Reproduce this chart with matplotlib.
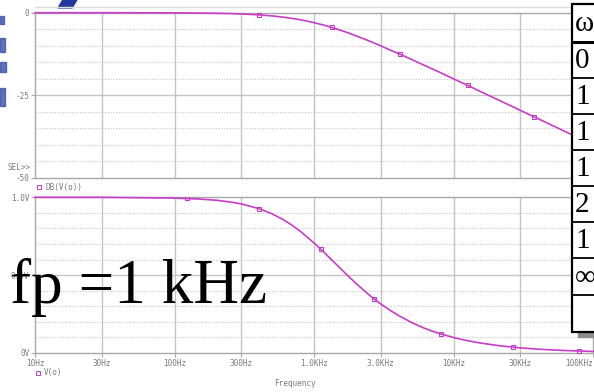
import numpy as np
import matplotlib
matplotlib.use('Agg')
from matplotlib import pyplot as plt
from matplotlib.patches import Rectangle, Polygon, Arc

# response of the RC low pass
freq = [10, 30, 100, 150, 200, 250, 300, 400, 500, 600, 700, 800, 1000, 1200, 1500,
        1700, 2000, 2500, 3000, 3500, 4000, 5000, 6000, 7000, 8000, 10000, 12000,
        15000, 20000, 25000, 30000, 40000, 50000, 70000, 100000]
gain_db = [0.0, 0.0, -0.04, -0.1, -0.17, -0.26, -0.38, -0.64, -0.97, -1.34, -1.74, -2.15,
           -3.01, -3.87, -5.12, -5.88, -6.99, -8.6, -10.0, -11.3, -12.3, -14.15, -15.7,
           -16.99, -18.1, -20.04, -21.6, -23.54, -26.03, -27.96, -29.55, -32.04, -33.98,
           -36.9, -40.0]
gain_v = [1.0, 1.0, 0.995, 0.989, 0.981, 0.97, 0.958, 0.928, 0.894, 0.857, 0.819, 0.781,
          0.707, 0.64, 0.555, 0.507, 0.447, 0.371, 0.316, 0.275, 0.243, 0.196, 0.164,
          0.141, 0.124, 0.0995, 0.083, 0.0665, 0.05, 0.04, 0.0333, 0.025, 0.02, 0.0143, 0.01]

# trace markers
mk_f_db = [403, 1346, 4160, 12600, 37700]
mk_db = [-0.67, -4.3, -12.6, -22.0, -31.5]
mk_f_v = [122, 403, 1122, 2700, 8200, 26500, 80000]
mk_v = [0.993, 0.927, 0.665, 0.347, 0.121, 0.038, 0.0125]

xtick_f = [10, 30, 100, 300, 1000, 3000, 10000, 30000, 100000]
xtick_lab = ['10Hz', '30Hz', '100Hz', '300Hz', '1.0KHz', '3.0KHz', '10KHz', '30KHz', '100KHz']

table_rows = ['\u03c9', '0', '1', '1', '1', '2', '1', '\u221e', '']

W, H = 594, 392
fig = plt.figure(figsize=(W / 100, H / 100), dpi=100)
fig.patch.set_facecolor('white')

MAG = '#c83cc8'
GRID = '#c4c4c4'
TXT = '#7a7a7a'
mono = 'DejaVu Sans Mono'


def fx(px):
    return px / W


def fy(py):
    return 1 - py / H


def setup(ax, yt, solid):
    ax.set_xscale('log')
    ax.set_xlim(10, 100000)
    ax.minorticks_off()
    ax.set_xticks(xtick_f)
    for f in xtick_f[1:-1]:
        ax.axvline(f, color=GRID, lw=1.0, zorder=0)
    for y in yt:
        if abs(y - solid) < 1e-9:
            ax.axhline(y, color=GRID, lw=1.0, zorder=0)
        else:
            ax.axhline(y, color=GRID, lw=0.8, ls=(0, (1, 1.5)), zorder=0)
    for s in ax.spines.values():
        s.set_color('#a8a8a8')
        s.set_linewidth(1.0)
    ax.tick_params(length=3, width=0.8, color='#a8a8a8', labelsize=5.5, labelcolor=TXT, pad=1)


# top: dB plot
ax1 = fig.add_axes([fx(35), fy(177.7), fx(593) - fx(35), fy(12.7) - fy(177.7)])
ax1.plot(freq, gain_db, color=MAG, lw=1.2, zorder=5, clip_on=False)
ax1.plot(mk_f_db, mk_db, ls='none', marker='s', ms=3, mfc='none', mec=MAG, mew=0.8, zorder=6)
ax1.set_ylim(-50, 0)
setup(ax1, np.arange(-45, 0, 5), -25)
ax1.set_yticks([0, -25, -50])
ax1.set_yticklabels(['0', '-25', '-50'], family=mono)
ax1.set_xticklabels([])
ax1.tick_params(axis='x', length=0)

# bottom: linear plot
ax2 = fig.add_axes([fx(35), fy(353), fx(593) - fx(35), fy(197.3) - fy(353)])
ax2.plot(freq, gain_v, color=MAG, lw=1.2, zorder=5, clip_on=False)
ax2.plot(mk_f_v, mk_v, ls='none', marker='s', ms=3, mfc='none', mec=MAG, mew=0.8, zorder=6)
ax2.set_ylim(0, 1.0)
setup(ax2, np.arange(0.1, 1.0, 0.1), 0.5)
ax2.set_yticks([0, 0.5, 1.0])
ax2.set_yticklabels(['0V', '0.5V', '1.0V'], family=mono)
ax2.set_xticklabels(xtick_lab, family=mono)
ax2.get_xticklabels()[-1].set_horizontalalignment('right')

# overlay in pixel coordinates for the annotations
ov = fig.add_axes([0, 0, 1, 1], facecolor='none')
ov.set_xlim(0, W)
ov.set_ylim(H, 0)
ov.axis('off')

ov.plot([35, 594], [7, 7], color='#dcdcdc', lw=1)
ov.text(31, 167, 'SEL>>', family=mono, fontsize=5.5, color=TXT, ha='right', va='center')
ov.add_patch(Rectangle((37, 185), 3.5, 3.5, fill=False, ec=MAG, lw=0.7))
ov.text(45, 187, 'DB(V(o))', family=mono, fontsize=5.5, color=TXT, va='center')
ov.add_patch(Rectangle((36, 371), 3.5, 3.5, fill=False, ec=MAG, lw=0.7))
ov.text(44, 373, 'V(o)', family=mono, fontsize=5.5, color=TXT, va='center')
ov.text(295, 383, 'Frequency', family=mono, fontsize=5.5, color=TXT, ha='center', va='center')

# slide text on top
ov.text(10, 303, 'fp =1 kHz', family='Liberation Serif', fontsize=45.5, color='black',
        va='baseline', ha='left')

# blue pieces of the slide logo
ov.add_patch(Arc((18, -6), 44, 30, theta1=180, theta2=330, color='#23389a', lw=3))
ov.add_patch(Polygon([[58, 8], [64, -2], [78, -2], [72, 8]], closed=True, color='#23389a'))
ov.add_patch(Rectangle((0, 16), 4, 8, color='#3a4fa8', alpha=0.8))
ov.add_patch(Rectangle((0, 38), 5, 14, color='#3a4fa8', alpha=0.8))
ov.add_patch(Rectangle((0, 62), 6, 10, color='#3a4fa8', alpha=0.8))
ov.add_patch(Rectangle((0, 88), 5, 18, color='#3a4fa8', alpha=0.8))

# table on the right
ov.add_patch(Rectangle((578, 331), 20, 6, color='#8c8c8c', zorder=3))
ov.add_patch(Rectangle((572, 4), 30, 328, facecolor='white', edgecolor='black', lw=1.6, zorder=4))
row_y = [4, 42, 78, 114, 150, 186, 222, 258, 295, 332]
for k in range(1, len(row_y) - 1):
    ov.plot([572, 598], [row_y[k], row_y[k]], color='black', lw=2.2 if k == 1 else 1.3, zorder=5)
for k, lab in enumerate(table_rows):
    yc = (row_y[k] + row_y[k + 1]) / 2
    ov.text(575, yc + 1, lab, family='Liberation Serif', fontsize=21, color='black',
            va='center', ha='left', zorder=6)

fig.savefig('out.png', dpi=100)
